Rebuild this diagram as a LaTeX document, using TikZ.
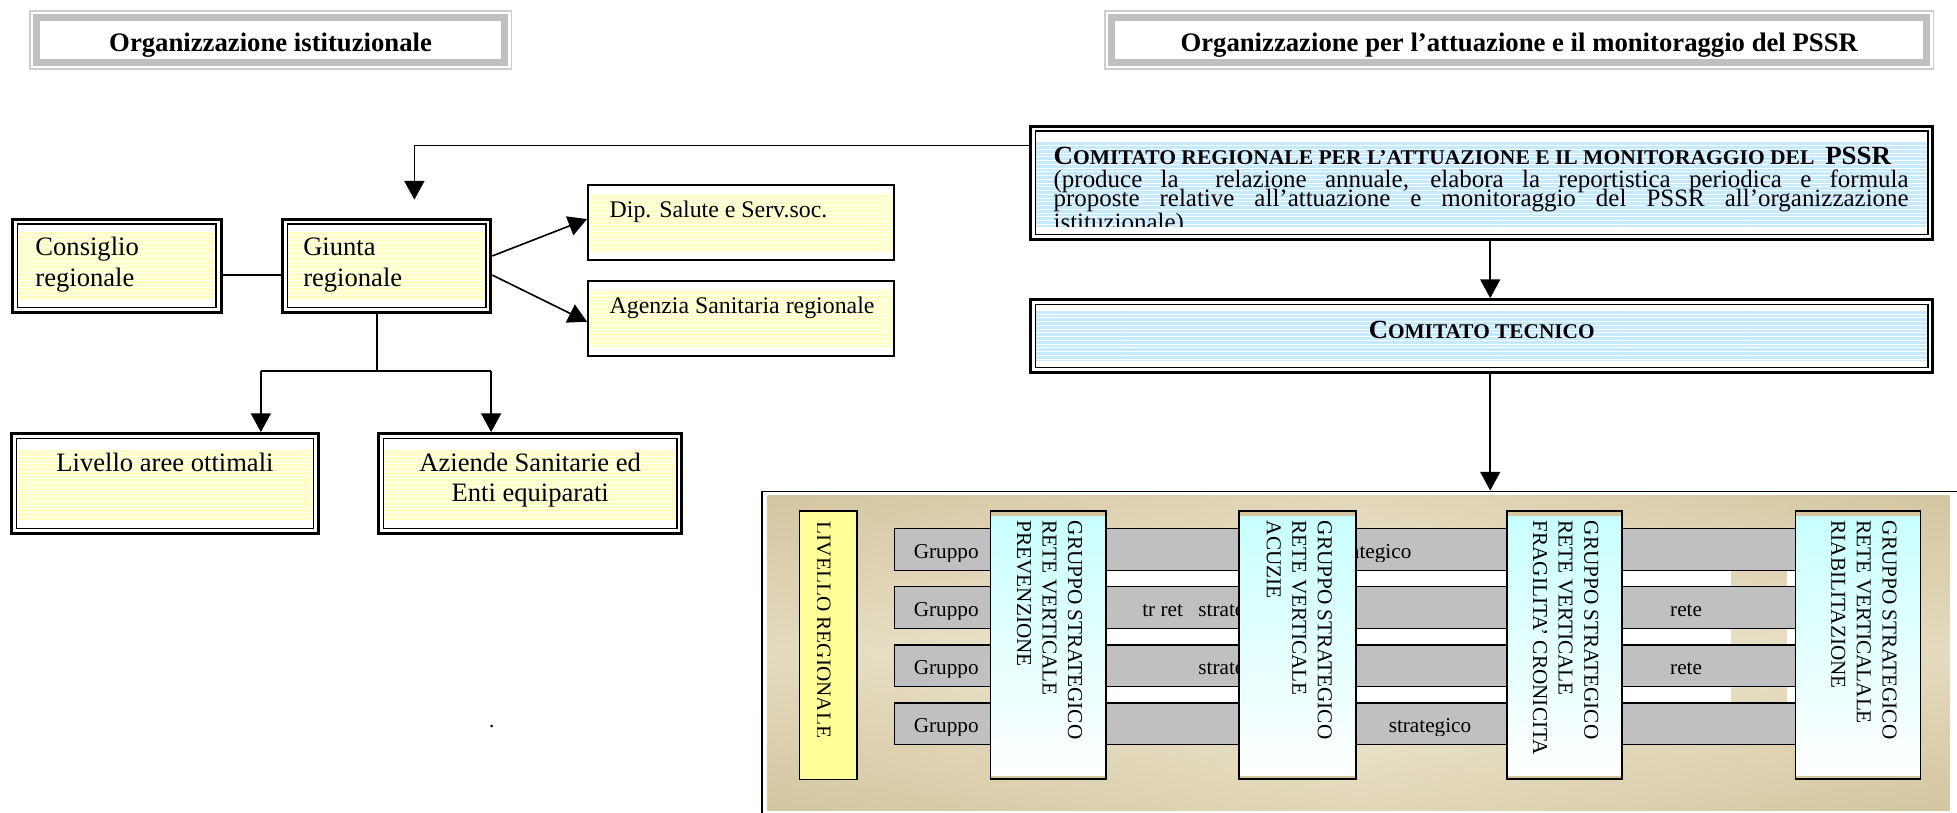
\documentclass[tikz,border=0pt]{standalone}
\usepackage{fontspec}
\setmainfont{Liberation Serif}
\usepackage{graphicx}
\usetikzlibrary{arrows.meta,patterns}
\definecolor{yband}{RGB}{255,255,196}
\definecolor{bband}{RGB}{200,234,255}
\definecolor{tgrey}{RGB}{192,192,192}
\definecolor{tgreyl}{RGB}{205,205,205}
\definecolor{bargrey}{RGB}{192,192,192}
\definecolor{livyellow}{RGB}{255,255,153}
\definecolor{colcyan}{RGB}{200,255,255}
\definecolor{tandark}{RGB}{212,198,160}
\definecolor{tanlight}{RGB}{243,236,216}
\newcommand\myfs[2]{\fontsize{#1pt}{#2pt}\selectfont}
\tikzset{
  dbox/.style n args={3}{draw, line width=2.4pt, inner sep=0pt, path picture={
     \fill[#1] ([shift={(4.6pt,-#2)}]path picture bounding box.north west) rectangle ([shift={(-4.6pt,#3)}]path picture bounding box.south east);
     \fill[pattern=horizontal lines, pattern color=white] ([shift={(4.6pt,-#2)}]path picture bounding box.north west) rectangle ([shift={(-4.6pt,#3)}]path picture bounding box.south east);
     \draw[line width=1.2pt] ([shift={(4pt,-4pt)}]path picture bounding box.north west) rectangle ([shift={(-4pt,4pt)}]path picture bounding box.south east);}},
  sbox/.style n args={3}{draw, line width=1.5pt, inner sep=0pt, path picture={
     \fill[#1] ([yshift=-#2]path picture bounding box.north west) rectangle ([yshift=#3]path picture bounding box.south east);
     \fill[pattern=horizontal lines, pattern color=white] ([yshift=-#2]path picture bounding box.north west) rectangle ([yshift=#3]path picture bounding box.south east);}},
  tbox/.style={draw=tgreyl, line width=1.5pt, inner sep=0pt, path picture={
     \draw[tgrey, line width=5.7pt] ([shift={(5.7pt,-5.7pt)}]path picture bounding box.north west) rectangle ([shift={(-5.7pt,5.7pt)}]path picture bounding box.south east);}},
  ttext/.style={anchor=base, inner sep=0pt, font=\myfs{21.4}{22}\bfseries},
  txt/.style={anchor=base west, inner sep=0pt, font=\myfs{21.3}{25}},
  stxt/.style={anchor=base west, inner sep=0pt, font=\myfs{19.1}{22}},
  btxt/.style={anchor=base west, inner sep=0pt, font=\myfs{17}{20}},
  bar/.style={draw, fill=bargrey, line width=1.2pt, inner sep=0pt, anchor=north west, minimum width=722pt, minimum height=33.5pt},
  colbox/.style={draw, line width=1.3pt, inner sep=0pt, anchor=north west, minimum height=214.5pt, top color=colcyan, bottom color=white, path picture={
     \fill[tandark] (path picture bounding box.north west) rectangle ([yshift=-4pt]path picture bounding box.north east);
     \fill[tandark] ([yshift=2.5pt]path picture bounding box.south west) rectangle (path picture bounding box.south east);}},
  coltext/.style={rotate=-90, align=left, inner sep=0pt, anchor=north west, font=\myfs{17}{20.5}},
  arr/.style={line width=1.3pt, -{Triangle[length=15pt,width=16pt]}},
  conn/.style={line width=1.3pt}
}
\begin{document}
\begin{tikzpicture}[x=1pt,y=-1pt]
\useasboundingbox (0,0) rectangle (1568,651);

% ---------- titles
\node[tbox, minimum width=386pt, minimum height=47pt] (tl) at (216.8,32) {};
\node[ttext] (tlt) at (216.8,41.5) {Organizzazione istituzionale};
\node[tbox, minimum width=664pt, minimum height=47pt] (tr) at (1217.2,32) {};
\node[ttext] (trt) at (1217.2,41.5) {Organizzazione per l’attuazione e il monitoraggio del PSSR};

% ---------- left part
\node[dbox={yband}{10pt}{11pt}, minimum width=167pt, minimum height=75pt] (cons) at (93.6,213) {};
\node[txt] (cons1) at (28.2,204.4) {Consiglio};
\node[txt] (cons2) at (28.2,229.7) {regionale};
\node[dbox={yband}{10pt}{11pt}, minimum width=167pt, minimum height=75pt] (giunta) at (309.7,213) {};
\node[txt] (giu1) at (242.8,204.4) {Giunta};
\node[txt] (giu2) at (242.8,229.7) {regionale};

\node[sbox={yband}{7pt}{6pt}, minimum width=245.3pt, minimum height=60.2pt] (dip) at (593.8,178.2) {};
\node[stxt] (dipt) at (488.3,174) {Dip. Salute e Serv.soc.};
\node[sbox={yband}{7pt}{7pt}, minimum width=245.3pt, minimum height=60.2pt] (agen) at (593.8,255.1) {};
\node[stxt] (agent) at (488.3,251) {Agenzia Sanitaria regionale};

\node[dbox={yband}{13pt}{11pt}, minimum width=246pt, minimum height=80pt] (liv) at (132.2,387.4) {};
\node[txt, anchor=base] (livt) at (132.2,378) {Livello aree ottimali};
\node[dbox={yband}{13pt}{11pt}, minimum width=243pt, minimum height=80pt] (azi) at (424.8,387.4) {};
\node[txt, anchor=base] (azi1) at (424.8,378) {Aziende Sanitarie ed};
\node[txt, anchor=base] (azi2) at (424.8,401.5) {Enti equiparati};

\node[inner sep=0pt, anchor=base, font=\myfs{17}{17}] (dot) at (394,583) {.};

% connectors left
\draw[conn] ([yshift=-7.4pt]cons.east) -- ([yshift=-7.4pt]giunta.west);
\draw[arr] ([yshift=7.9pt]giunta.east) -- ([yshift=2.7pt]dip.west);
\draw[arr] ([yshift=-7.4pt]giunta.east) -- ([yshift=-2.7pt]agen.west);
\coordinate (jm) at (302,297);
\coordinate (jl) at (209,297);
\coordinate (jr) at (393.5,297);
\draw[conn] (giunta.south -| jm) -- (jm);
\draw[conn] (jl) -- (jr);
\draw[arr] (jl) -- (jl |- liv.north);
\draw[arr] (jr) -- (jr |- azi.north);

% ---------- right part
\node[dbox={bband}{12pt}{10pt}, minimum width=723pt, minimum height=91pt] (comreg) at (1187.2,146.5) {};
\coordinate (tA) at (332,160);
\draw[arr] ([yshift=-16.8pt]comreg.north west) -| (tA);
\begin{scope}
\clip (826,101) rectangle (1549,181.5);
\node[anchor=base west, inner sep=0pt] (cr1) at (844,131.4) {\resizebox{671pt}{\height}{\bfseries\myfs{21}{21}C\myfs{16.8}{21}OMITATO REGIONALE PER L’ATTUAZIONE E IL MONITORAGGIO DEL\ \ \myfs{21}{21}PSSR}};
\node[anchor=base west, inner sep=0pt, font=\myfs{20}{20}] (cr2) at (844,150.1) {\makebox[685pt][s]{(produce la\ \ relazione annuale, elabora la reportistica periodica e formula}};
\node[anchor=base west, inner sep=0pt, font=\myfs{20}{20}] (cr3) at (844,165.6) {\makebox[685pt][s]{proposte relative all’attuazione e monitoraggio del PSSR all’organizzazione}};
\node[anchor=base west, inner sep=0pt, font=\myfs{20}{20}] (cr4) at (844,184.5) {istituzionale)};
\end{scope}

\node[dbox={bband}{8pt}{9pt}, minimum width=723pt, minimum height=58.5pt] (tec) at (1187.2,269.3) {};
\node[anchor=base, inner sep=0pt] (tect) at (1187.2,271) {\resizebox{181pt}{\height}{\bfseries\myfs{21}{21}C\myfs{16.8}{21}OMITATO TECNICO}};

\coordinate (ax) at (1194,0);
\draw[arr] (comreg.south -| ax) -- (tec.north -| ax);

% ---------- panel
\shade[top color=tandark, bottom color=tandark, middle color=tanlight] (615,397) rectangle (1562,649);
\shade[left color=tandark, right color=tandark, middle color=tanlight, opacity=0.45] (615,397) rectangle (1562,649);
\node[draw, line width=1.2pt, inner sep=0pt, anchor=north west, minimum width=966pt, minimum height=266pt] (panel) at (610,393) {};
\draw[arr] (tec.south -| ax) -- (panel.north -| ax);

\fill[white] (885,423) rectangle (1387,596);
\fill[white] (1432,423) rectangle (1438,596);

\node[bar] (bar1) at (716,423) {};
\node[bar] (bar2) at (716,469.5) {};
\node[bar] (bar3) at (716,516) {};
\node[bar] (bar4) at (716,562.5) {};

\begin{scope}
\clip (716,423) rectangle (1438,449.5);
\node[btxt] (b1a) at (732,447.5) {Gruppo};
\node[btxt, anchor=base east] (b1b) at (1131,447.5) {strategico};
\end{scope}
\begin{scope}
\clip (716,469.5) rectangle (1438,496);
\node[btxt] (b2a) at (732,494) {Gruppo};
\node[btxt] (b2b) at (915,494) {tr ret};
\node[btxt] (b2c) at (960,494) {strategico};
\node[btxt] (b2d) at (1338,494) {rete};
\end{scope}
\begin{scope}
\clip (716,516) rectangle (1438,542.5);
\node[btxt] (b3a) at (732,540.5) {Gruppo};
\node[btxt] (b3c) at (960,540.5) {strategico};
\node[btxt] (b3d) at (1338,540.5) {rete};
\end{scope}
\begin{scope}
\clip (716,562.5) rectangle (1438,589);
\node[btxt] (b4a) at (732,587) {Gruppo};
\node[btxt] (b4b) at (1112.5,587) {strategico};
\end{scope}

\node[draw, fill=livyellow, line width=1.3pt, inner sep=0pt, anchor=north west, minimum width=46pt, minimum height=215pt] (livreg) at (640,409) {};
\begin{scope}
\clip (655.3,409) rectangle (686,624);
\node[coltext] (livregt) at ([xshift=-21.5pt,yshift=-9pt]livreg.north east) {LIVELLO REGIONALE};
\end{scope}

\node[colbox, minimum width=92.5pt] (g1) at (793,409) {};
\node[coltext] (g1t) at ([xshift=-19.5pt,yshift=-8pt]g1.north east) {GRUPPO STRATEGICO\\RETE VERTICALE\\PREVENZIONE};
\node[colbox, minimum width=93.6pt] (g2) at (992,409) {};
\node[coltext] (g2t) at ([xshift=-19.5pt,yshift=-8pt]g2.north east) {GRUPPO STRATEGICO\\RETE VERTICALE\\ACUZIE};
\node[colbox, minimum width=92pt] (g3) at (1207,409) {};
\node[coltext] (g3t) at ([xshift=-19.5pt,yshift=-8pt]g3.north east) {GRUPPO STRATEGICO\\RETE VERTICALE\\FRAGILITA’ CRONICITA};
\node[colbox, minimum width=100pt] (g4) at (1438,409) {};
\node[coltext] (g4t) at ([xshift=-19.5pt,yshift=-8pt]g4.north east) {GRUPPO STRATEGICO\\RETE VERTICALALE\\RIABILITAZIONE};

\end{tikzpicture}
\end{document}
